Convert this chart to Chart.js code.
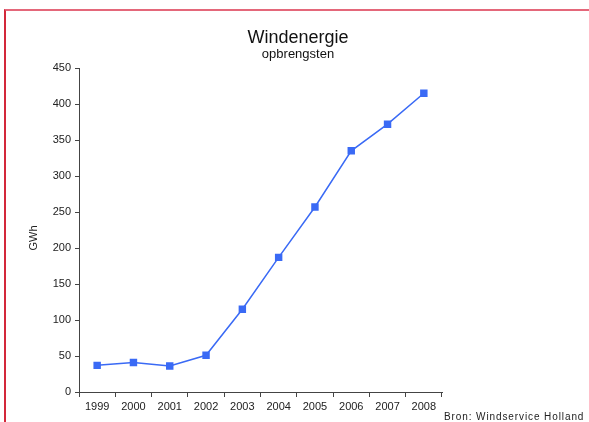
<!DOCTYPE html>
<html>
<head>
<meta charset="utf-8">
<script src="https://cdn.jsdelivr.net/npm/chart.js@4/dist/chart.umd.min.js"></script>
<style>
  body { margin: 0; background: #fff; }
  #wrap { position: relative; width: 589px; height: 422px; }
  #frame {
    position: absolute; left: 4px; top: 9px; right: -10px; bottom: -10px;
    border-top: 2px solid #e4677a; border-left: 2px solid #d3283a;
  }
  canvas { position: absolute; left: 0; top: 0; }
</style>
</head>
<body>
<div id="wrap">
  <div id="frame"></div>
  <canvas id="chart" width="589" height="422"></canvas>
</div>
<script>
'use strict';

var years = ['1999', '2000', '2001', '2002', '2003', '2004', '2005', '2006', '2007', '2008'];
var gwh = [37, 41, 36, 51, 115, 187, 257, 335, 372, 415];
var yTicks = [0, 50, 100, 150, 200, 250, 300, 350, 400, 450];

var titleText = 'Windenergie';
var subtitleText = 'opbrengsten';
var axisLabel = 'GWh';
var sourceText = 'Bron: Windservice Holland';

var fontFamily = "'Liberation Sans', Arial, Helvetica, sans-serif";

// title block centred on the whole page, the unit label and the source note
var extraText = {
    id: 'extraText',
    afterDraw: function(chart) {
        var ctx = chart.ctx;
        ctx.save();
        ctx.fillStyle = '#111';
        ctx.textBaseline = 'alphabetic';
        ctx.textAlign = 'center';
        ctx.font = '18px ' + fontFamily;
        ctx.fillText(titleText, 298, 42.5);
        ctx.font = '13px ' + fontFamily;
        ctx.fillText(subtitleText, 298, 58);

        // unit label, rotated, a bit below the middle of the axis
        ctx.save();
        ctx.fillStyle = '#222';
        ctx.font = '11px ' + fontFamily;
        ctx.textBaseline = 'middle';
        ctx.translate(34, 238);
        ctx.rotate(-Math.PI / 2);
        ctx.fillText(axisLabel, 0, 0);
        ctx.restore();

        ctx.fillStyle = '#222';
        ctx.textAlign = 'left';
        ctx.font = '10px ' + fontFamily;
        ctx.letterSpacing = '0.9px';
        ctx.fillText(sourceText, 444, 420);
        ctx.restore();
    }
};

var ctx = document.getElementById('chart').getContext('2d');

var chart = new Chart(ctx, {
    type: 'line',
    data: {
        labels: years,
        datasets: [
            {
                label: axisLabel,
                data: gwh,
                borderColor: '#3a6af5',
                backgroundColor: '#3a6af5',
                borderWidth: 1.5,
                pointStyle: 'rect',
                pointRadius: 4.2,
                pointHoverRadius: 4.2,
                tension: 0
            }
        ]
    },
    options: {
        responsive: false,
        animation: false,
        layout: { padding: { left: 10, right: 147, top: 68, bottom: 0 } },
        plugins: {
            legend: { display: false },
            tooltip: { enabled: false },
            title: { display: false },
            subtitle: { display: false }
        },
        scales: {
            x: {
                type: 'category',
                offset: true,
                grid: {
                    display: true,
                    offset: true,
                    drawOnChartArea: false,
                    drawTicks: true,
                    tickLength: 5,
                    color: '#444'
                },
                border: { display: true, color: '#444', width: 1 },
                ticks: {
                    color: '#222',
                    padding: 3,
                    maxRotation: 0,
                    font: { family: fontFamily, size: 11 }
                },
                afterFit: function(scale) { scale.height = 30; }
            },
            y: {
                min: 0,
                max: 450,
                afterBuildTicks: function(scale) {
                    scale.ticks = yTicks.map(function(v) { return { value: v }; });
                },
                grid: {
                    display: true,
                    drawOnChartArea: false,
                    drawTicks: true,
                    tickLength: 4,
                    color: '#444'
                },
                border: { display: true, color: '#444', width: 1 },
                ticks: {
                    color: '#222',
                    padding: 4,
                    font: { family: fontFamily, size: 11 }
                },
                afterFit: function(scale) { scale.width = 69; }
            }
        }
    },
    plugins: [extraText]
});
</script>
</body>
</html>
